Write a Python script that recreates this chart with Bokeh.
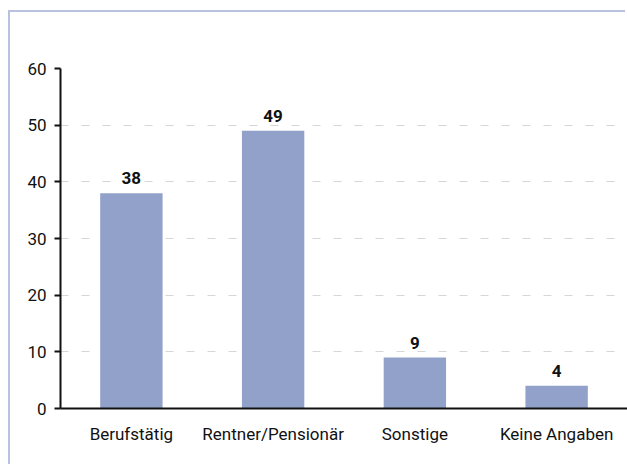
from bokeh.plotting import figure
from bokeh.models import ColumnDataSource, FactorRange, Range1d, FixedTicker, LabelSet
from bokeh.core.properties import value
from bokeh.embed import file_html
from bokeh.resources import INLINE

categories = ["Berufstätig", "Rentner/Pensionär", "Sonstige", "Keine Angaben"]
values = [38, 49, 9, 4]
y_ticks = [0, 10, 20, 30, 40, 50, 60]

FONT = "Roboto"
BAR = "#91a1c9"
FRAME = "#b7c2df"

src = ColumnDataSource(dict(cat=categories, val=values, lab=[str(v) for v in values]))

p = figure(
    x_range=FactorRange(*categories, range_padding=0),
    y_range=Range1d(0, 60),
    width=617, height=454, margin=(12, 0, 0, 10),
    output_backend="svg", toolbar_location=None,
    min_border_left=50, min_border_right=0, min_border_top=56, min_border_bottom=58,
)
p.styles = {"box-shadow": f"-2px -2px 0 0 {FRAME}"}
p.outline_line_color = None
p.background_fill_color = "white"
p.border_fill_color = "white"

p.vbar(x="cat", top="val", width=0.44, source=src, fill_color=BAR, line_color=None)

p.add_layout(LabelSet(x="cat", y="val", text="lab", source=src, text_align="center",
                      text_baseline="bottom", y_offset=9, text_font=value(FONT),
                      text_font_style="bold", text_font_size="17px", text_color="#111111"))

p.xgrid.grid_line_color = None
p.ygrid.grid_line_color = "#d6d6d6"
p.ygrid.grid_line_dash = "8 13"
p.ygrid.grid_line_width = 1

p.yaxis.ticker = FixedTicker(ticks=y_ticks)
p.yaxis.minor_tick_line_color = None
p.yaxis.major_tick_out = 6
p.yaxis.major_tick_in = 0
p.yaxis.axis_line_width = 2
p.yaxis.major_tick_line_width = 2
p.yaxis.axis_line_color = "#111111"
p.yaxis.major_tick_line_color = "#111111"
p.yaxis.major_label_text_font = FONT
p.yaxis.major_label_text_font_size = "17px"
p.yaxis.major_label_text_color = "#111111"
p.yaxis.major_label_standoff = 8

p.xaxis.axis_line_width = 2
p.xaxis.axis_line_color = "#111111"
p.xaxis.major_tick_line_color = None
p.xaxis.minor_tick_line_color = None
p.xaxis.major_label_text_font = FONT
p.xaxis.major_label_text_font_size = "17px"
p.xaxis.major_label_text_color = "#111111"
p.xaxis.major_label_standoff = 9

open("out.html", "w").write(file_html(p, INLINE))
